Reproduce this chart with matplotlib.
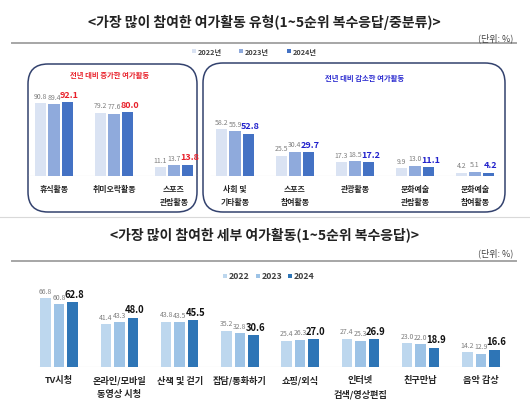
import matplotlib
matplotlib.use("Agg")
import matplotlib.pyplot as plt
from matplotlib.patches import FancyBboxPatch
import numpy as np

plt.rcParams['font.family'] = ['Noto Sans CJK KR', 'DejaVu Sans']

# ---------------- data ----------------
title1 = '<가장 많이 참여한 여가활동 유형(1~5순위 복수응답/중분류)>'
title2 = '<가장 많이 참여한 세부 여가활동(1~5순위 복수응답)>'
unit_text = '(단위: %)'
inc_title = '전년 대비 증가한 여가활동'
dec_title = '전년 대비 감소한 여가활동'

top_years = ['2022년', '2023년', '2024년']
inc_cats = ['휴식활동', '취미오락활동', '스포츠\n관람활동']
inc_2022 = [90.8, 79.2, 11.1]
inc_2023 = [89.4, 77.6, 13.7]
inc_2024 = [92.1, 80.0, 13.8]

dec_cats = ['사회 및\n기타활동', '스포츠\n참여활동', '관광활동', '문화예술\n관람활동', '문화예술\n참여활동']
dec_2022 = [58.2, 25.5, 17.3, 9.9, 4.2]
dec_2023 = [55.9, 30.4, 18.5, 13.0, 5.1]
dec_2024 = [52.8, 29.7, 17.2, 11.1, 4.2]

bot_years = ['2022', '2023', '2024']
bot_cats = ['TV시청', '온라인/모바일\n동영상 시청', '산책 및 걷기', '잡담/통화하기',
            '쇼핑/외식', '인터넷\n검색/영상편집', '친구만남', '음악 감상']
bot_2022 = [66.8, 41.4, 43.8, 35.2, 25.4, 27.4, 23.0, 14.2]
bot_2023 = [60.8, 43.3, 43.5, 32.8, 26.3, 25.3, 22.0, 12.9]
bot_2024 = [62.8, 48.0, 45.5, 30.6, 27.0, 26.9, 18.9, 16.6]

# ---------------- style ----------------
top_colors = ['#dae3f3', '#8faadc', '#4472c4']
bot_colors = ['#bdd7ee', '#9dc3e6', '#2e75b6']
W, H = 530, 414

fig = plt.figure(figsize=(W / 100, H / 100), dpi=100)
fig.patch.set_facecolor('white')

def px_axes(x0, y0, x1, y1, **kw):
    # pixel box (top-left origin) -> figure axes
    return fig.add_axes([x0 / W, 1 - y1 / H, (x1 - x0) / W, (y1 - y0) / H], **kw)

bg = px_axes(0, 0, W, H)
bg.set_xlim(0, W)
bg.set_ylim(H, 0)
bg.axis('off')
bg.set_zorder(0)

# titles and rules
bg.text(264, 22, title1, ha='center', va='center', fontsize=10, fontweight='bold', color='#222222')
bg.text(513, 38, unit_text, ha='right', va='center', fontsize=6.5, color='#444444')
bg.plot([12, 516], [44, 44], color='#a6a6a6', lw=1.4)
bg.text(264, 235, title2, ha='center', va='center', fontsize=10, fontweight='bold', color='#222222')
bg.text(513, 253, unit_text, ha='right', va='center', fontsize=6.5, color='#444444')
bg.plot([0, W], [218, 218], color='#d9d9d9', lw=0.8)
bg.plot([12, 516], [262, 262], color='#a6a6a6', lw=1.4)

# legends (manual)
for xs, lab, c in zip([194, 241, 289], top_years, top_colors):
    bg.scatter([xs], [52], marker='s', s=7, color=c, linewidths=0)
    bg.text(xs + 4, 52, lab, ha='left', va='center', fontsize=5.2, fontweight='bold', color='#404040')
for xs, lab, c in zip([225, 258, 290], bot_years, bot_colors):
    bg.scatter([xs], [277], marker='s', s=10, color=c, linewidths=0)
    bg.text(xs + 4, 277, lab, ha='left', va='center', fontsize=6.3, fontweight='bold', color='#404040')

# rounded boxes
for (x0, y0, x1, y1) in [(28, 65, 197, 213), (203, 64, 505, 213)]:
    bg.add_patch(FancyBboxPatch((x0, y0), x1 - x0, y1 - y0,
                                boxstyle='round,pad=0,rounding_size=20',
                                fc='none', ec='#33426e', lw=1.1))
bg.text(110, 75, inc_title, ha='center', va='center', fontsize=5.3, fontweight='bold', color='#e8202a')
bg.text(365, 78, dec_title, ha='center', va='center', fontsize=5.3, fontweight='bold', color='#2b2bd0')


def grouped(ax, cats, series, colors, bw, step, hi_color, small_fs, big_fs, cat_fs, pad, lspace):
    x = np.arange(len(cats))
    for i, (vals, c) in enumerate(zip(series, colors)):
        pos = x + (i - 1) * step
        ax.bar(pos, vals, width=bw, color=c, zorder=2)
        for p, v in zip(pos, vals):
            if i < 2:
                ax.annotate(f'{v:.1f}', (p, v), xytext=(0, 2.5), textcoords='offset points',
                            ha='center', va='bottom', fontsize=small_fs, color='#7f7f7f')
            else:
                ax.annotate(f'{v:.1f}', (p, v), xytext=(1.5, 2.5), textcoords='offset points',
                            ha='center', va='bottom', fontsize=big_fs, color=hi_color,
                            fontweight='bold')
    ax.set_xticks(x)
    ax.set_xticklabels(cats, fontsize=cat_fs, fontweight='bold', color='#262626',
                       linespacing=lspace)
    ax.tick_params(axis='x', length=0, pad=pad)
    ax.set_yticks([])
    for s in ['top', 'right', 'left', 'bottom']:
        ax.spines[s].set_visible(False)
    ax.axhline(0, xmin=0.02, xmax=0.98, color='#d9d9d9', lw=0.8, zorder=1)
    ax.patch.set_alpha(0)


# top-left
axL = px_axes(24, 89, 204, 177)
axL.set_xlim(-0.5, 2.5)
axL.set_ylim(0, 110)
grouped(axL, inc_cats, [inc_2022, inc_2023, inc_2024], top_colors, 0.185, 0.225,
        '#e8202a', 5, 6.5, 5.7, 5.5, 1.65)

# top-right
axR = px_axes(205, 89, 505, 177)
axR.set_xlim(-0.5, 4.5)
axR.set_ylim(0, 110)
grouped(axR, dec_cats, [dec_2022, dec_2023, dec_2024], top_colors, 0.185, 0.225,
        '#2222cc', 5, 6.5, 5.7, 5.5, 1.65)

# bottom
axB = px_axes(29, 285.6, 511, 368)
axB.set_xlim(-0.5, 7.5)
axB.set_ylim(0, 80)
grouped(axB, bot_cats, [bot_2022, bot_2023, bot_2024], bot_colors, 0.178, 0.224,
        '#111111', 5, 6.8, 6.6, 6, 1.6)

fig.savefig('out.png', dpi=100)
